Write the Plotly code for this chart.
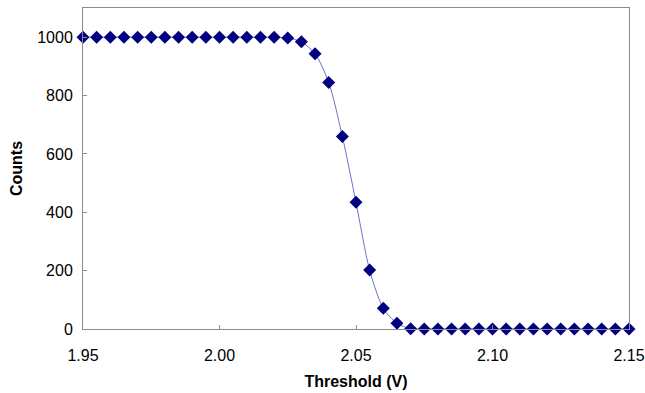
import plotly.graph_objects as go

threshold = [1.950, 1.955, 1.960, 1.965, 1.970, 1.975, 1.980, 1.985, 1.990, 1.995,
             2.000, 2.005, 2.010, 2.015, 2.020, 2.025, 2.030, 2.035, 2.040, 2.045,
             2.050, 2.055, 2.060, 2.065, 2.070, 2.075, 2.080, 2.085, 2.090, 2.095,
             2.100, 2.105, 2.110, 2.115, 2.120, 2.125, 2.130, 2.135, 2.140, 2.145, 2.150]
counts = [1000, 1000, 1000, 1000, 1000, 1000, 1000, 1000, 1000, 1000,
          1000, 1000, 1000, 1000, 1000, 997, 984, 943, 845, 660,
          434, 202, 71, 20, 1, 0, 0, 0, 0, 0,
          0, 0, 0, 0, 0, 0, 0, 0, 0, 0, 0]
x_ticks = [1.95, 2.00, 2.05, 2.10, 2.15]
y_ticks = [0, 200, 400, 600, 800, 1000]

FONT = "Liberation Sans, Arial"
fig = go.Figure()
fig.add_trace(go.Scatter(
    x=threshold, y=counts, mode="lines+markers",
    line=dict(color="#7070d0", width=1, shape="spline", smoothing=0.8),
    marker=dict(symbol="diamond", size=10, color="#000080"),
    cliponaxis=False, showlegend=False,
))

axis_common = dict(
    showgrid=False, zeroline=False, showline=True, linecolor="#8c8c8c", linewidth=1,
    mirror=True, ticks="inside", ticklen=4, tickcolor="#8c8c8c", automargin=False,
    tickfont=dict(family=FONT, size=16, color="#000"),
)
fig.update_xaxes(range=[1.95, 2.15], tickvals=x_ticks, ticktext=[f"{v:.2f}" for v in x_ticks],
                 ticklabelstandoff=12,
                 title=dict(text="<b>Threshold (V)</b>", font=dict(family=FONT, size=16, color="#000"), standoff=12),
                 **axis_common)
fig.update_yaxes(range=[0, 1100], tickvals=y_ticks, ticklabelstandoff=6,
                 title=dict(text="<b>Counts</b>", font=dict(family=FONT, size=16, color="#000"), standoff=10),
                 **axis_common)
fig.update_layout(
    width=645, height=393, margin=dict(l=83, r=16, t=8, b=64),
    paper_bgcolor="white", plot_bgcolor="white",
)
fig.write_html("out.html")
